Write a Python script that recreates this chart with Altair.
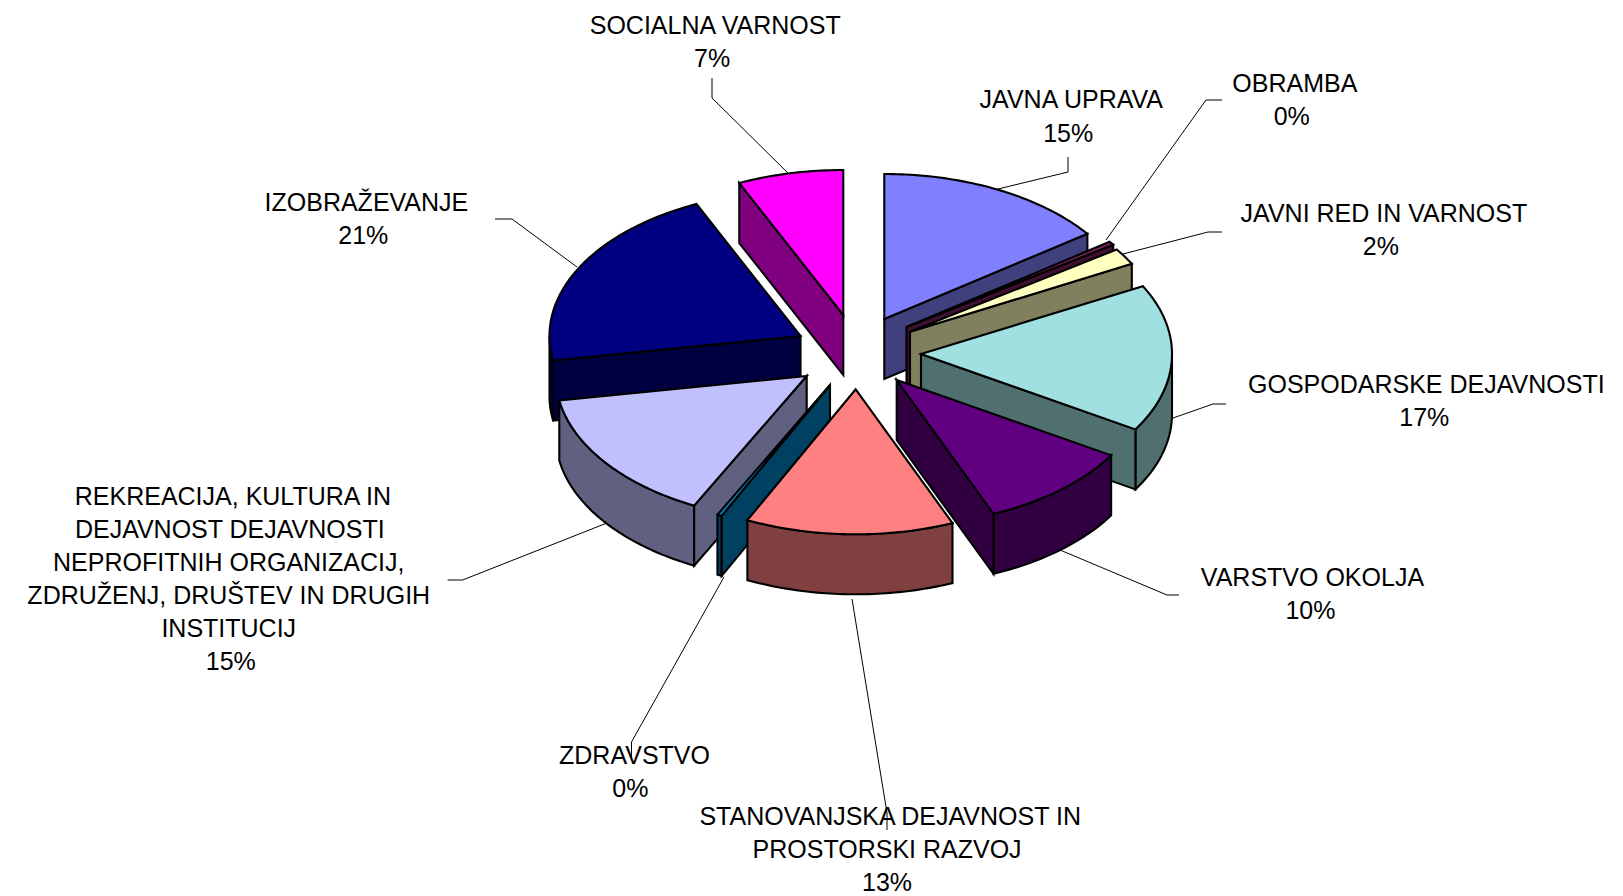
import math
import altair as alt
import pandas as pd

# ---- chart values -------------------------------------------------------
CATEGORIES = ["JAVNA UPRAVA", "OBRAMBA", "JAVNI RED IN VARNOST", "GOSPODARSKE DEJAVNOSTI",
              "VARSTVO OKOLJA", "STANOVANJSKA DEJAVNOST IN PROSTORSKI RAZVOJ", "ZDRAVSTVO",
              "REKREACIJA, KULTURA IN DEJAVNOST DEJAVNOSTI NEPROFITNIH ORGANIZACIJ, ZDRUŽENJ, DRUŠTEV IN DRUGIH INSTITUCIJ",
              "IZOBRAŽEVANJE", "SOCIALNA VARNOST"]
SHARES = [15.0, 0.4, 1.85, 16.45, 10.0, 13.4, 0.3, 14.9, 20.9, 6.8]   # slice sweep
PERCENT_LABELS = ["15%", "0%", "2%", "17%", "10%", "13%", "0%", "15%", "21%", "7%"]
TOP_COLORS = ["#8080FF", "#802060", "#FFFFC0", "#A0E0E0", "#600080",
              "#FF8080", "#0080C0", "#C0C0FF", "#000080", "#FF00FF"]
SIDE_COLORS = ["#40407F", "#401030", "#80805F", "#507070", "#300040",
               "#804040", "#004060", "#606080", "#000040", "#800080"]

# ---- layout of the exploded pie ----------------------------------------
APEX_X = [884.3, 906.5, 910.0, 921.0, 896.7, 855.7, 830.0, 806.7, 800.5, 843.3]
APEX_Y = [319.0, 327.0, 331.7, 354.0, 380.0, 389.3, 385.0, 376.0, 336.0, 315.0]
A, B, DEPTH = 251.0, 145.0, 60.0
PAINT_ORDER = [9, 8, 0, 1, 2, 3, 4, 7, 6, 5]

W, H = 1607, 884
X = alt.X("x:Q", scale=alt.Scale(domain=[8, 8 + W], nice=False, zero=False), axis=None)
Y = alt.Y("y:Q", scale=alt.Scale(domain=[8 + H, 8], nice=False, zero=False), axis=None)


def arc(i, t0, t1):
    n = max(2, int(abs(t1 - t0) / 1.0) + 1)
    pts = []
    for k in range(n + 1):
        t = math.radians(t0 + (t1 - t0) * k / n)
        pts.append((APEX_X[i] + A * math.sin(t), APEX_Y[i] - B * math.cos(t)))
    return pts


def face(points, fill):
    df = pd.DataFrame(points, columns=["x", "y"])
    df["i"] = range(len(df))
    return alt.Chart(df).mark_line(
        fill=fill, stroke="black", strokeWidth=2.1, interpolate="linear-closed",
        strokeJoin="miter", clip=False,
    ).encode(x=X, y=Y, order="i:Q")


def drop(points):
    return [(x, y + DEPTH) for x, y in points]


layers = []

# ---- leader lines -------------------------------------------------------
LEADERS = [
    [(712, 78), (712, 98), (791, 176)],
    [(1068, 157), (1068, 172), (998, 189)],
    [(1222, 100), (1206, 100), (1106, 240)],
    [(1222, 232), (1208, 232), (1123, 254)],
    [(1226, 404), (1213, 404), (1173, 418)],
    [(1179, 595), (1167, 595), (1060, 550)],
    [(887, 830), (887, 813), (852, 599)],
    [(631.5, 759), (631.5, 742), (724, 577)],
    [(447.6, 580), (462.6, 580), (607, 523)],
    [(495, 219), (512, 219), (577, 267)],
]
for line in LEADERS:
    df = pd.DataFrame(line, columns=["x", "y"])
    df["i"] = range(len(df))
    layers.append(alt.Chart(df).mark_line(stroke="black", strokeWidth=1).encode(x=X, y=Y, order="i:Q"))

# ---- pie slices ---------------------------------------------------------
edges = [0.0]
for s in SHARES:
    edges.append(edges[-1] + s)

for i in PAINT_ORDER:
    t0, t1 = edges[i] * 3.6, edges[i + 1] * 3.6
    apex = (APEX_X[i], APEX_Y[i])
    outer = arc(i, t0, t1)
    # outer curved wall: only the front half of the ellipse is visible
    lo, hi = max(t0, 90.0), min(t1, 270.0)
    if lo < hi:
        wall = arc(i, lo, hi)
        layers.append(face(wall + drop(wall)[::-1], SIDE_COLORS[i]))
    # radial walls
    if 180.0 < t0 < 360.0:
        p = outer[0]
        layers.append(face([apex, p, (p[0], p[1] + DEPTH), (apex[0], apex[1] + DEPTH)], SIDE_COLORS[i]))
    if 0.0 < t1 < 180.0:
        p = outer[-1]
        layers.append(face([apex, p, (p[0], p[1] + DEPTH), (apex[0], apex[1] + DEPTH)], SIDE_COLORS[i]))
    layers.append(face([apex] + outer, TOP_COLORS[i]))

# ---- labels -------------------------------------------------------------
S = 1623 / 1568
LABEL_LINES = [
    ("SOCIALNA VARNOST", 691, 25), (PERCENT_LABELS[9], 688, 57),
    ("JAVNA UPRAVA", 1035, 97), (PERCENT_LABELS[0], 1032, 129),
    ("OBRAMBA", 1251, 81), (PERCENT_LABELS[1], 1248, 113),
    ("JAVNI RED IN VARNOST", 1337, 207), (PERCENT_LABELS[2], 1334, 239),
    ("GOSPODARSKE DEJAVNOSTI", 1378, 372), (PERCENT_LABELS[3], 1376, 404),
    ("VARSTVO OKOLJA", 1268, 558), (PERCENT_LABELS[4], 1266, 590),
    ("STANOVANJSKA DEJAVNOST IN", 860, 789), ("PROSTORSKI RAZVOJ", 857, 821), (PERCENT_LABELS[5], 857, 853),
    ("ZDRAVSTVO", 613, 730), (PERCENT_LABELS[6], 609, 762),
    ("REKREACIJA, KULTURA IN", 225, 480), ("DEJAVNOST DEJAVNOSTI", 222, 512),
    ("NEPROFITNIH ORGANIZACIJ,", 221, 544), ("ZDRUŽENJ, DRUŠTEV IN DRUGIH", 221, 576),
    ("INSTITUCIJ", 221, 608), (PERCENT_LABELS[7], 223, 640),
    ("IZOBRAŽEVANJE", 354, 196), (PERCENT_LABELS[8], 351, 228),
]
labels = pd.DataFrame([(t, x * S, y * S) for t, x, y in LABEL_LINES], columns=["t", "x", "y"])
layers.append(alt.Chart(labels).mark_text(
    font="Liberation Sans", fontSize=25, color="black", align="center", baseline="middle",
).encode(x=X, y=Y, text="t:N"))

chart = alt.layer(*layers).properties(
    width=W, height=H, padding=0, autosize=alt.AutoSizeParams(type="none"), background="white",
).configure_view(stroke=None)

chart.save("out.html", embed_options={"renderer": "svg", "actions": False})
